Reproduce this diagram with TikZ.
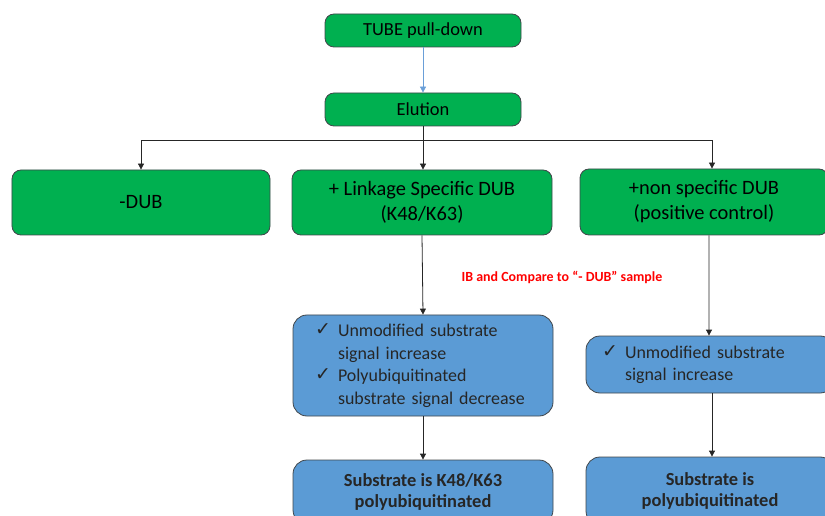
\documentclass[tikz,border=0pt]{standalone}
\usepackage{fontspec}
\setmainfont{Carlito}
\newfontfamily\symfont{DejaVu Sans}
\usetikzlibrary{arrows.meta}
\definecolor{boxgreen}{HTML}{00B050}
\definecolor{boxblue}{HTML}{5B9BD5}
\definecolor{edgegray}{HTML}{41464B}
\definecolor{pullblue}{HTML}{6A9FD8}
\newcommand{\chk}{\makebox[23bp][l]{\raisebox{1bp}{\symfont\fontsize{19}{19}\selectfont ✓}}}
\newcommand{\ind}{\hspace*{23bp}}
\begin{document}
\begin{tikzpicture}[x=1bp,y=-1bp,
	greenbox/.style={draw=edgegray,line width=0.8bp,fill=boxgreen,rounded corners=9bp,
		inner sep=0pt,align=center,font=\fontsize{20.5}{25}\selectfont},
	bluebox/.style={draw=edgegray,line width=0.8bp,fill=boxblue,rounded corners=14bp,
		inner sep=0pt,text=black!85,font=\fontsize{18}{22.7}\selectfont},
	conn/.style={draw=black!85,line width=0.8bp,-{Triangle[length=6bp,width=6bp]}}]
	\path[use as bounding box] (0,0) rectangle (825,516);
	\clip (0,0) rectangle (825,516);
	\node[greenbox,minimum width=196bp,minimum height=33bp,font=\fontsize{18.5}{22}\selectfont] (tube) at (423,30.5) {TUBE pull-down};
	\node[greenbox,minimum width=196bp,minimum height=33bp,font=\fontsize{18.5}{22}\selectfont] (elution) at (423,109.5) {Elution};
	\node[greenbox,minimum width=258bp,minimum height=65bp] (nodub) at (141,202.5) {-DUB};
	\node[greenbox,minimum width=260bp,minimum height=65bp] (linkage) at (422,202.5) {+ Linkage Specific DUB\\(K48/K63)};
	\node[greenbox,minimum width=248bp,minimum height=66bp] (nonspec) at (704,202) {+non specific DUB\\(positive control)};
	\node[text=red,font=\fontsize{14}{16}\selectfont\bfseries] (note) at (562,277) {IB and Compare to “- DUB” sample};
	\node[bluebox,minimum width=260bp,minimum height=101bp,text width=216bp,align=left] (lcheck) at (423,365.5)
		{\chk Unmodified substrate\\\ind signal increase\\\chk Polyubiquitinated\\\ind substrate signal decrease};
	\node[bluebox,minimum width=248bp,minimum height=57bp,text width=216bp,align=left] (rcheck) at (710,364.5)
		{\chk Unmodified substrate\\\ind signal increase};
	\node[bluebox,minimum width=260bp,minimum height=64bp,align=center,font=\fontsize{18.5}{22}\selectfont\bfseries] (lresult) at (423,492)
		{Substrate is K48/K63\\polyubiquitinated};
	\node[bluebox,minimum width=248bp,minimum height=68bp,align=center,font=\fontsize{18.5}{22}\selectfont\bfseries] (rresult) at (710,491)
		{Substrate is\\polyubiquitinated};
	\coordinate (split) at (423,140);
	\draw[conn,draw=pullblue] (tube) -- (elution);
	\draw[conn] (elution.south) -- ([xshift=1bp]linkage.north);
	\draw[conn] (split) -| (nodub.north);
	\draw[conn] (split) -| ([xshift=8bp]nonspec.north);
	\draw[conn] ([xshift=5bp]nonspec.south) -- ([xshift=-1bp]rcheck.north);
	\draw[conn] (linkage.south) -- (lcheck.north);
	\draw[conn] (lcheck) -- (lresult);
	\draw[conn] ([xshift=2bp]rcheck.south) -- ([xshift=2bp]rresult.north);
\end{tikzpicture}
\end{document}
